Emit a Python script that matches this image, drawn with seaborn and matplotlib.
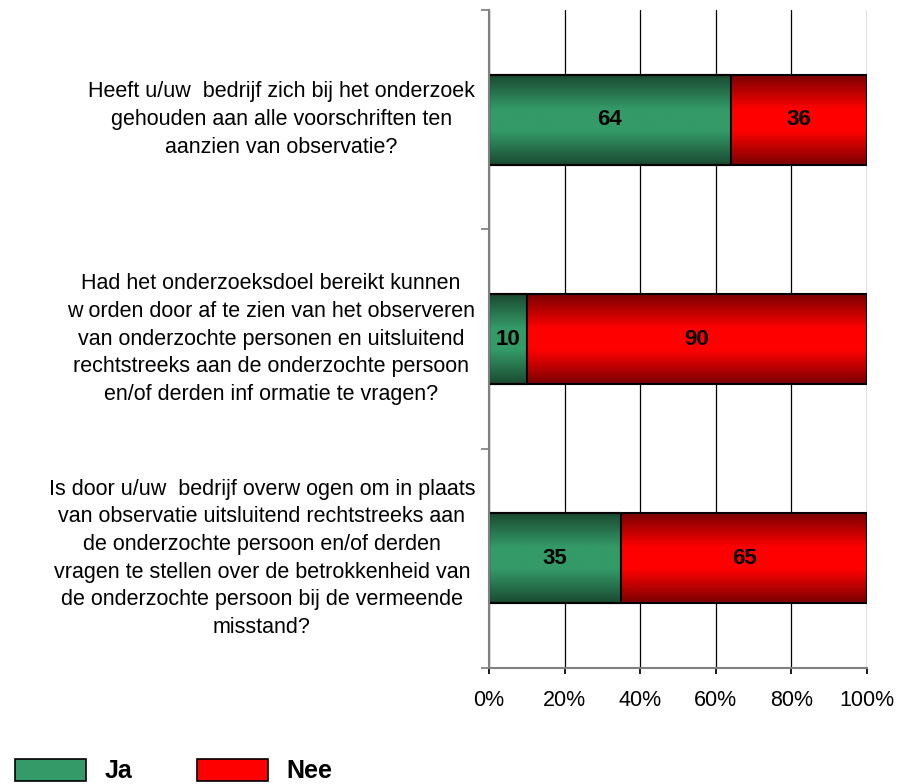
import numpy as np
import pandas as pd
import matplotlib
matplotlib.use("Agg")
import matplotlib.pyplot as plt
from matplotlib.colors import LinearSegmentedColormap
from matplotlib.patches import Patch
import seaborn as sns

questions = [
    "Heeft u/uw  bedrijf zich bij het onderzoek\ngehouden aan alle voorschriften ten\naanzien van observatie?",
    "Had het onderzoeksdoel bereikt kunnen\nw orden door af te zien van het observeren\nvan onderzochte personen en uitsluitend\nrechtstreeks aan de onderzochte persoon\nen/of derden inf ormatie te vragen?",
    "Is door u/uw  bedrijf overw ogen om in plaats\nvan observatie uitsluitend rechtstreeks aan\nde onderzochte persoon en/of derden\nvragen te stellen over de betrokkenheid van\nde onderzochte persoon bij de vermeende\nmisstand?",
]
ja = [64, 10, 35]
nee = [36, 90, 65]
series_names = ["Ja", "Nee"]
xticks = [0, 20, 40, 60, 80, 100]

GREEN_MID, GREEN_DARK = "#349a68", "#1a4a31"
RED_MID, RED_DARK = "#ff0000", "#7a0000"

sns.set_theme(style="white")
plt.rcParams["font.family"] = ["Liberation Sans", "DejaVu Sans"]
plt.rcParams["text.color"] = "black"
plt.rcParams["xtick.color"] = "black"
plt.rcParams["ytick.color"] = "black"

df = pd.DataFrame({"question": questions, "Ja": ja, "Nee": nee})
df["total"] = df["Ja"] + df["Nee"]

fig = plt.figure(figsize=(8.98, 7.84), dpi=100)
ax = fig.add_axes([489/898, 1-668/784, (867-489)/898, (668-10)/784])

sns.barplot(data=df, x="total", y="question", orient="h", color=RED_MID,
            width=0.41, ax=ax, edgecolor="black", linewidth=1.5, saturation=1)
n_red = len(ax.patches)
sns.barplot(data=df, x="Ja", y="question", orient="h", color=GREEN_MID,
            width=0.41, ax=ax, edgecolor="black", linewidth=1.5, saturation=1)

cm_red = LinearSegmentedColormap.from_list("r", [(0, RED_DARK), (0.38, RED_MID), (0.62, RED_MID), (1, RED_DARK)])
cm_green = LinearSegmentedColormap.from_list("g", [(0, GREEN_DARK), (0.38, GREEN_MID), (0.62, GREEN_MID), (1, GREEN_DARK)])
grad = np.linspace(0, 1, 256).reshape(-1, 1)
for i, p in enumerate(ax.patches):
    cmap = cm_red if i < n_red else cm_green
    x0, y0 = p.get_x(), p.get_y()
    w, h = p.get_width(), p.get_height()
    im = ax.imshow(grad, cmap=cmap, aspect="auto", extent=(x0, x0 + w, y0 + h, y0),
                   zorder=p.get_zorder(), interpolation="bilinear")
    im.set_clip_path(p)
    p.set_facecolor("none")
    p.set_zorder(p.get_zorder() + 0.5)

# value labels
for i in range(len(questions)):
    ax.text(ja[i] / 2, i, f"{ja[i]}", ha="center", va="center", fontsize=16, fontweight="bold", color="black", zorder=5)
    ax.text(ja[i] + nee[i] / 2, i, f"{nee[i]}", ha="center", va="center", fontsize=16, fontweight="bold", color="black", zorder=5)

ax.set_xlim(0, 100)
ax.set_ylim(len(questions) - 0.5, -0.5)
ax.set_xlabel("")
ax.set_ylabel("")
ax.set_xticks(xticks)
ax.set_xticklabels([f"{t}%" for t in xticks], fontsize=15.5)
ax.set_yticks(np.arange(len(questions) + 1) - 0.5)
ax.set_yticklabels([])
ax.set_yticks(np.arange(len(questions)), minor=True)
ax.set_yticklabels(questions, minor=True, fontsize=15.5, ha="right", va="center",
                   multialignment="center", linespacing=1.42)
ax.tick_params(axis="y", which="minor", length=0, pad=10)
ax.tick_params(axis="y", which="major", length=6, color="#808080", left=True, direction="out")
ax.tick_params(axis="x", length=4, color="black", bottom=True, direction="out", pad=12)
ax.grid(axis="x", color="black", linewidth=0.9)
ax.set_axisbelow(True)
for s in ["top", "right"]:
    ax.spines[s].set_visible(False)
for s in ["left", "bottom"]:
    ax.spines[s].set_color("#808080")
    ax.spines[s].set_linewidth(1.5)

handles = [Patch(facecolor=GREEN_MID, edgecolor="black", linewidth=1.2),
           Patch(facecolor=RED_MID, edgecolor="black", linewidth=1.2)]
fig.legend(handles, series_names, loc="upper left", bbox_to_anchor=(15/898, 1-759/784),
           ncol=2, frameon=False, borderpad=0, borderaxespad=0,
           handlelength=2.84, handleheight=0.95, handletextpad=0.74, columnspacing=2.6,
           prop={"size": 18, "weight": "bold"})

fig.savefig("out.png", dpi=100)
